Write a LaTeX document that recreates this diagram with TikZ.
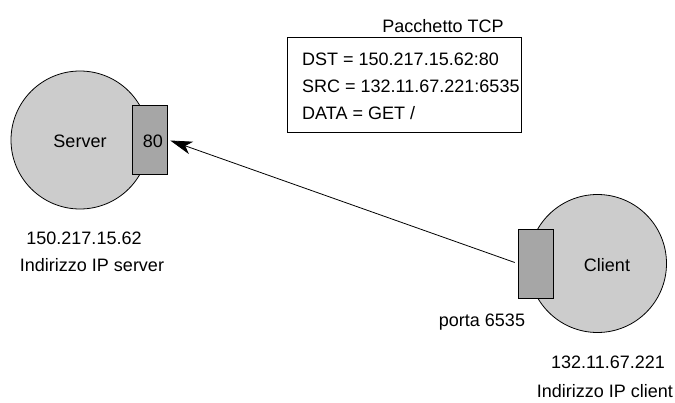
\documentclass[tikz,border=0pt]{standalone}
\usepackage{fontspec}
\setmainfont{Liberation Sans}
\usetikzlibrary{arrows.meta}

\begin{document}
\begin{tikzpicture}[x=1pt,y=-1pt,
  host/.style={circle,draw,fill=black!20,line width=0.8pt,minimum size=138pt,inner sep=0pt},
  port/.style={rectangle,draw,fill=black!35,line width=0.8pt,minimum width=35pt,minimum height=69pt,inner sep=0pt},
  label/.style={anchor=base,inner sep=0pt},
  field/.style={anchor=base west,inner sep=0pt}]
\fontsize{18}{22}\selectfont

\useasboundingbox (0,0) rectangle (675,402);

\coordinate (server-center) at (80,140);
\coordinate (server-port-center) at (149.5,139.5);
\coordinate (client-center) at (597.5,263.5);
\coordinate (client-port-center) at (535.5,263.5);
\coordinate (packet-center) at (404,84.5);

\node [host] (server) at (server-center) {};
\node [port] (server-port) at (server-port-center) {};
\node [host] (client) at (client-center) {};
\node [port] (client-port) at (client-port-center) {};

\node [draw,line width=0.8pt,minimum width=234pt,minimum height=95pt] (packet) at (packet-center) {};

\draw [-{Stealth[length=22pt,width=13pt,inset=6pt]},line width=0.8pt,shorten <=3pt,shorten >=3pt] (client-port.west) -- (server-port.east);

\node [label] (server-name) at (80,147) {Server};
\node [label] (server-port-number) at (153,147) {80};
\node [label] (server-address) at (84,244) {150.217.15.62};
\node [label] (server-address-caption) at (92,271) {Indirizzo IP server};

\node [label] (client-name) at (607,271) {Client};
\node [label] (client-port-number) at (482,326) {porta 6535};
\node [label] (client-address) at (608,368) {132.11.67.221};
\node [label] (client-address-caption) at (605,397) {Indirizzo IP client};

\node [label] (packet-title) at (443,32) {Pacchetto TCP};
\node [field] (dst-field) at (302,65) {DST = 150.217.15.62:80};
\node [field] (src-field) at (302,92.5) {SRC = 132.11.67.221:6535};
\node [field] (data-field) at (302,119.5) {DATA = GET /};

\end{tikzpicture}
\end{document}
